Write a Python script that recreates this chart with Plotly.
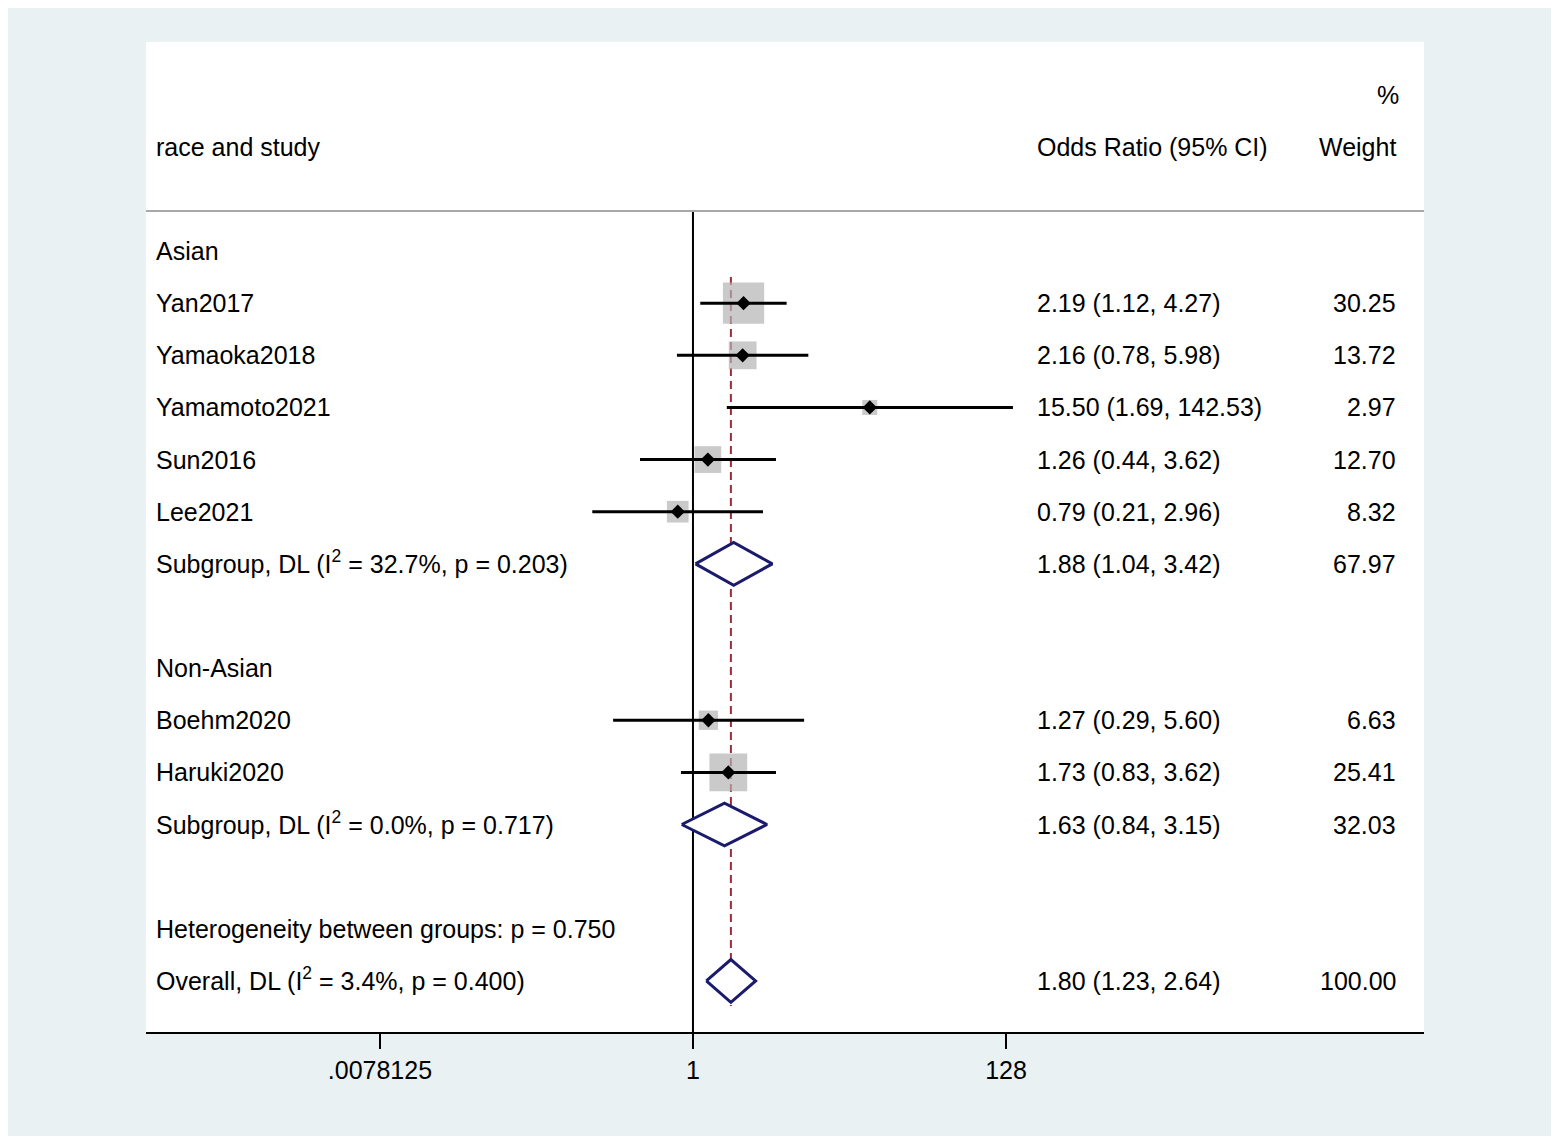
import numpy as np
import plotly.graph_objects as go

# study level results
study_names = ["Yan2017", "Yamaoka2018", "Yamamoto2021", "Sun2016", "Lee2021", "Boehm2020", "Haruki2020"]
study_or = [2.19, 2.16, 15.50, 1.26, 0.79, 1.27, 1.73]
study_lo = [1.12, 0.78, 1.69, 0.44, 0.21, 0.29, 0.83]
study_hi = [4.27, 5.98, 142.53, 3.62, 2.96, 5.60, 3.62]
study_weight = [30.25, 13.72, 2.97, 12.70, 8.32, 6.63, 25.41]

# pooled estimates
pooled_keys = ["sub_asian", "sub_nonasian", "overall"]
pooled_labels = ["Subgroup, DL (I<sup>2</sup> = 32.7%, p = 0.203)",
                 "Subgroup, DL (I<sup>2</sup> = 0.0%, p = 0.717)",
                 "Overall, DL (I<sup>2</sup> = 3.4%, p = 0.400)"]
pooled_or = [1.88, 1.63, 1.80]
pooled_lo = [1.04, 0.84, 1.23]
pooled_hi = [3.42, 3.15, 2.64]
pooled_weight = [67.97, 32.03, 100.00]

group_labels = ["Asian", "Non-Asian"]
het_label = "Heterogeneity between groups: p = 0.750"

# order of rows, top to bottom ("" = blank row)
row_order = ["Asian", "Yan2017", "Yamaoka2018", "Yamamoto2021", "Sun2016", "Lee2021", "sub_asian", "",
             "Non-Asian", "Boehm2020", "Haruki2020", "sub_nonasian", "",
             "het", "overall"]

tick_vals = [0.0078125, 1, 128]
tick_text = [".0078125", "1", "128"]

row = {k: i for i, k in enumerate(row_order) if k}

FONT = "Liberation Sans, Arial, sans-serif"
FS = 25
NAVY = "#1b1b6e"
MAROON = "#9e2a3a"

fig = go.Figure()

# null line at OR = 1
fig.add_trace(go.Scatter(x=[1, 1], y=[-0.77, 15.2], mode="lines",
                         line=dict(color="black", width=2), hoverinfo="skip"))

# overall effect dashed line
fig.add_trace(go.Scatter(x=[pooled_or[2], pooled_or[2]], y=[0.5, 14.48], mode="lines",
                         line=dict(color=MAROON, width=2, dash="8px,5px"), hoverinfo="skip"))

# weight boxes
ys = [row[n] for n in study_names]
fig.add_trace(go.Scatter(x=study_or, y=ys, mode="markers",
                         marker=dict(symbol="square", color="#b4b4b4",
                                     size=[max(7.5 * np.sqrt(w), 15) for w in study_weight],
                                     line=dict(width=0)),
                         hoverinfo="skip"))

# confidence intervals
cx, cy = [], []
for lo, hi, y in zip(study_lo, study_hi, ys):
    cx += [lo, hi, None]
    cy += [y, y, None]
fig.add_trace(go.Scatter(x=cx, y=cy, mode="lines", line=dict(color="black", width=3),
                         hoverinfo="skip"))

# point estimates
fig.add_trace(go.Scatter(x=study_or, y=ys, mode="markers",
                         marker=dict(symbol="diamond", color="black", size=11),
                         hoverinfo="skip"))

# pooled diamonds
for k, est, lo, hi in zip(pooled_keys, pooled_or, pooled_lo, pooled_hi):
    y = row[k]
    h = 0.41
    fig.add_trace(go.Scatter(x=[lo, est, hi, est, lo], y=[y, y - h, y, y + h, y],
                             mode="lines", fill="toself", fillcolor="white",
                             line=dict(color=NAVY, width=3), hoverinfo="skip"))


def txt(x, y, s, anchor="left", shift=0):
    fig.add_annotation(x=x, y=y, xref="paper", yref="y", text=s, showarrow=False,
                       xanchor=anchor, yanchor="middle", yshift=shift,
                       font=dict(family=FONT, size=FS, color="black"))


X_LABEL, X_OR, X_W = 0.006, 0.696, 0.98

# headers
txt(X_LABEL, -2, "race and study")
txt(X_OR, -2, "Odds Ratio (95% CI)")
txt(X_W, -2, "Weight", "right")
txt(X_W + 0.002, -3, "%", "right")

for g in group_labels:
    txt(X_LABEL, row[g], g)

for n, o, lo, hi, w in zip(study_names, study_or, study_lo, study_hi, study_weight):
    txt(X_LABEL, row[n], n)
    txt(X_OR, row[n], f"{o:.2f} ({lo:.2f}, {hi:.2f})")
    txt(X_W, row[n], f"{w:.2f}", "right")

for k, lab, o, lo, hi, w in zip(pooled_keys, pooled_labels, pooled_or, pooled_lo, pooled_hi, pooled_weight):
    txt(X_LABEL, row[k], lab, shift=2)
    txt(X_OR, row[k], f"{o:.2f} ({lo:.2f}, {hi:.2f})")
    txt(X_W, row[k], f"{w:.2f}", "right")

txt(X_LABEL, row["het"], het_label)

# header separator
fig.add_shape(type="line", xref="paper", yref="y", x0=0, x1=1, y0=-0.77, y1=-0.77,
              line=dict(color="#a8a8a8", width=2))

fig.update_layout(
    width=1551, height=1128,
    margin=dict(l=138, r=135, t=34, b=104),
    paper_bgcolor="#e9f1f3",
    plot_bgcolor="white",
    showlegend=False,
    font=dict(family=FONT, size=FS, color="black"),
    xaxis=dict(type="log", range=[-3.682, 4.921], tickvals=tick_vals, ticktext=tick_text,
               showgrid=False, zeroline=False, showline=True, linecolor="black", linewidth=2,
               ticks="outside", ticklen=15, tickwidth=2, tickcolor="black",
               tickfont=dict(family=FONT, size=FS, color="black")),
    yaxis=dict(range=[14.98, -4.01], showgrid=False, zeroline=False,
               showticklabels=False, showline=False, ticks=""),
)

fig.write_html("out.html")
